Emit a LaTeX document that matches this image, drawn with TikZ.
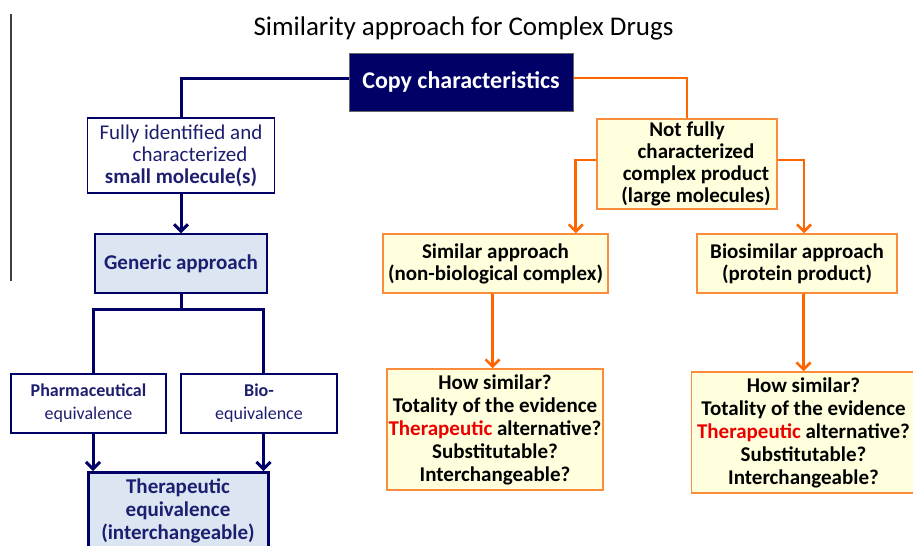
\documentclass[tikz,border=0pt]{standalone}
\usepackage{fontspec}
\setmainfont{Carlito}
\usetikzlibrary{arrows.meta}

\definecolor{navyBlue}{RGB}{0,0,102}
\definecolor{navyText}{RGB}{30,30,112}
\definecolor{paleBlue}{RGB}{220,230,242}
\definecolor{flowOrange}{RGB}{255,102,0}
\definecolor{edgeOrange}{RGB}{250,140,60}
\definecolor{paleYellow}{RGB}{255,255,221}
\definecolor{alertRed}{RGB}{235,0,0}

\begin{document}
\begin{tikzpicture}[x=1pt, y=-1pt, >={Straight Barb[length=7pt, width=14pt]}]

    %
    % Styles for boxes, and connectors
    %
    \tikzstyle{box} = [rectangle, align=center, inner sep=0pt, font={\fontsize{21}{22}\selectfont}]
    \tikzstyle{blueBox} = [box, draw=navyBlue, line width=1.2pt, fill=white, text=navyText]
    \tikzstyle{smallBox} = [blueBox, font={\fontsize{18}{23}\selectfont}]
    \tikzstyle{paleBox} = [blueBox, fill=paleBlue, font={\fontsize{21}{23}\selectfont\bfseries}]
    \tikzstyle{orangeBox} = [box, draw=edgeOrange, line width=1.5pt, fill=paleYellow, text=black,
                             font={\fontsize{21}{22}\selectfont\bfseries}]
    \tikzstyle{blueLine} = [navyBlue, line width=3pt];
    \tikzstyle{blueFlow} = [blueLine, ->];
    \tikzstyle{orangeTrack} = [flowOrange, line width=2.6pt];
    \tikzstyle{orangeFlow} = [orangeTrack, ->];

    \clip (0,0) rectangle (913,546);
    \draw[black!75, line width=1.3pt] (11,14) -- (11,281);

    %
    % Position boxes
    %
    \node[name=title, anchor=base, font={\fontsize{27}{30}\selectfont}] at (463.5,35)
      {Similarity approach for Complex Drugs};
    \node[box, name=copy, fill=navyBlue, draw=black!60, line width=1pt, text=white,
          minimum width=224, minimum height=58, font={\fontsize{24}{26}\selectfont\bfseries}]
      at (461,82) {Copy characteristics};

    \node[blueBox, name=fully, minimum width=187, minimum height=75] at (181,155.5)
      {Fully identified and\\ \hspace*{18pt}characterized\\ \textbf{small molecule(s)}};
    \node[paleBox, name=generic, minimum width=172, minimum height=59] at (181,263.5)
      {Generic approach};
    \node[smallBox, name=pharm, minimum width=155, minimum height=59] at (88.5,403.5)
      {\textbf{Pharmaceutical}\\ equivalence};
    \node[smallBox, name=bio, minimum width=156, minimum height=59] at (259,403.5)
      {\textbf{Bio-}\\ equivalence};
    \node[paleBox, name=thera, line width=3pt, minimum width=180, minimum height=77] at (178,511)
      {Therapeutic\\ equivalence\\ (interchangeable)};

    \node[orangeBox, name=notfully, minimum width=180, minimum height=90] at (687,164)
      {Not fully\\ \hspace*{18pt}characterized\\ \hspace*{18pt}complex product\\ \hspace*{18pt}(large molecules)};
    \node[orangeBox, name=similar, minimum width=225, minimum height=59] at (495.5,263.5)
      {Similar approach\\ (non-biological complex)};
    \node[orangeBox, name=biosim, minimum width=200, minimum height=59] at (797,263.5)
      {Biosimilar approach\\ (protein product)};
    \node[orangeBox, name=howA, minimum width=216, minimum height=121, font={\fontsize{21}{23}\selectfont\bfseries}]
      at (495,429.5)
      {How similar?\\ Totality of the evidence\\ {\color{alertRed}Therapeutic} alternative?\\ Substitutable?\\ Interchangeable?};
    \node[orangeBox, name=howB, minimum width=224, minimum height=121, font={\fontsize{21}{23}\selectfont\bfseries}]
      at (803.5,432.5)
      {How similar?\\ Totality of the evidence\\ {\color{alertRed}Therapeutic} alternative?\\ Substitutable?\\ Interchangeable?};

    %
    % Connect boxes via lines
    %
    \draw[blueLine] ([yshift=4pt]copy.west) -| (fully.north);
    \draw[blueFlow] (fully.south) -- (generic.north);
    \draw[blueLine] (generic.south) -- ++(0,16) coordinate (split);
    \coordinate (pharmDrop) at ([xshift=4.5pt]pharm.south);
    \coordinate (bioDrop) at ([xshift=4.5pt]bio.south);
    \draw[blueLine] ([xshift=4.5pt]pharm.north) |- (split) -| ([xshift=4.5pt]bio.north);
    \draw[blueFlow] (pharmDrop) -- (pharmDrop |- thera.north);
    \draw[blueFlow] (bioDrop) -- (bioDrop |- thera.north);

    \draw[orangeTrack] ([yshift=4pt]copy.east) -| (notfully.north);
    \coordinate (simDrop) at ([xshift=-33pt]similar.north east);
    \coordinate (biosimDrop) at ([xshift=7pt]biosim.north);
    \draw[orangeFlow] ([yshift=4pt]notfully.west) -| (simDrop);
    \draw[orangeFlow] ([yshift=4pt]notfully.east) -| (biosimDrop);
    \draw[orangeFlow] ([xshift=-3pt]similar.south) -- ([xshift=-3pt]similar.south |- howA.north);
    \draw[orangeFlow] (howB.north |- biosim.south) -- (howB.north);
  \end{tikzpicture}
\end{document}
